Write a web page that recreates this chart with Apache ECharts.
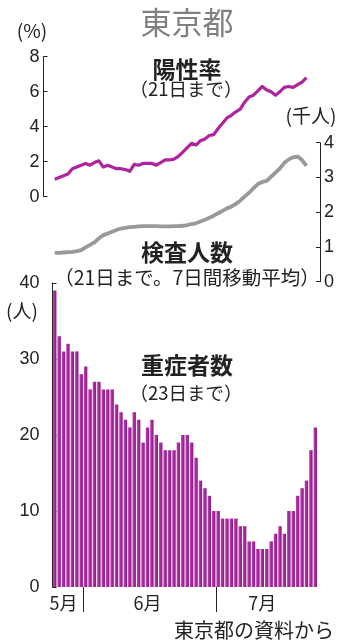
<!DOCTYPE html>
<html><head><meta charset="utf-8">
<script src="https://cdn.jsdelivr.net/npm/echarts@6/dist/echarts.min.js"></script>
<style>html,body{margin:0;padding:0;background:#fff}#c{width:346px;height:640px}</style>
</head><body><div id="c"></div>
<script>
// Categories: daily dates, May 25 – July 23
const dates = [
 '5/25','5/26','5/27','5/28','5/29','5/30','5/31',
 '6/1','6/2','6/3','6/4','6/5','6/6','6/7','6/8','6/9','6/10',
 '6/11','6/12','6/13','6/14','6/15','6/16','6/17','6/18','6/19','6/20',
 '6/21','6/22','6/23','6/24','6/25','6/26','6/27','6/28','6/29','6/30',
 '7/1','7/2','7/3','7/4','7/5','7/6','7/7','7/8','7/9','7/10',
 '7/11','7/12','7/13','7/14','7/15','7/16','7/17','7/18','7/19','7/20',
 '7/21','7/22','7/23'
];
// 陽性率 (%) to July 21
const positiveRate = [
 1.0,1.1,1.2,1.3,1.6,1.7,1.8,1.9,1.8,1.95,
 2.05,1.7,1.8,1.7,1.6,1.6,1.55,1.45,1.85,1.8,
 1.9,1.9,1.9,1.8,1.95,2.1,2.1,2.15,2.3,2.55,
 2.8,3.05,2.95,3.2,3.3,3.5,3.55,3.9,4.2,4.5,
 4.65,4.85,5.0,5.4,5.7,5.8,6.05,6.3,6.1,6.0,
 5.8,6.0,6.25,6.3,6.25,6.4,6.55,6.8
];
// 検査人数 (千人, 7-day avg) to July 21
const tests = [
 0.83,0.83,0.84,0.85,0.86,0.88,0.91,0.99,1.06,1.13,
 1.25,1.34,1.39,1.44,1.49,1.53,1.55,1.57,1.58,1.59,
 1.6,1.6,1.6,1.6,1.59,1.59,1.59,1.6,1.6,1.61,
 1.63,1.66,1.68,1.73,1.78,1.84,1.9,1.97,2.04,2.11,
 2.16,2.24,2.33,2.45,2.56,2.69,2.81,2.87,2.9,3.02,
 3.14,3.26,3.42,3.52,3.58,3.6,3.5,3.33
];
// 重症者数 (人) to July 23
const severe = [
 39,33,31,32,31,31,28,29,26,27,
 27,26,26,26,24,23,22,21,23,22,
 19,21,22,20,19,18,18,18,19,20,
 20,19,17,14,13,12,10,10,9,9,
 9,9,8,8,6,6,5,5,5,6,
 7,8,7,10,10,12,13,14,18,21
];
// Tick labels
const rateTicks = [0,2,4,6,8];
const testTicks = [0,1,2,3,4];
const severeTicks = [0,10,20,30,40];
const monthLabels = ['5月','6月','7月'];
const monthLabelDates = ['5/27','6/15','7/11'];
const monthStartDates = ['6/1','7/1'];

const INK = '#222';
const NUMFONT = "'Liberation Sans', Arial, sans-serif";
const JPFONT = "'Noto Sans CJK JP', sans-serif";
const GL = 52.5, GW = 265;

function yAx(grid, ticks, pos, offset) {
  return {
    type: 'value', gridIndex: grid, position: pos, offset: offset,
    min: ticks[0], max: ticks[ticks.length-1], interval: ticks[1]-ticks[0],
    axisLine: {show: true, lineStyle: {color: INK, width: 1}},
    axisTick: {show: true, inside: true, length: 4, lineStyle: {color: INK, width: 1}},
    axisLabel: {color: INK, fontSize: 18, fontFamily: NUMFONT, margin: 4},
    splitLine: {show: false}
  };
}
function xHidden(grid) {
  return {type: 'category', gridIndex: grid, data: dates, show: false, boundaryGap: true};
}

const chart = echarts.init(document.getElementById('c'), null, {renderer: 'canvas'});
function txt(t, x, y, size, opts) {
  opts = opts || {};
  return {
    type: 'text', x: x, y: y, silent: true,
    style: {
      text: t, fill: opts.color || INK,
      font: (opts.bold ? 'bold ' : '') + size + 'px ' + (opts.family || JPFONT),
      textAlign: opts.align || 'center', textVerticalAlign: 'middle'
    }
  };
}
// month boundaries expressed as day offsets along the date axis
const monthStartIdx = monthStartDates.map(d => dates.indexOf(d));
chart.setOption({
  animation: false,
  grid: [
    {left: GL, width: GW, top: 56.7, height: 140},
    {left: GL, width: GW, top: 142.7, height: 139},
    {left: GL, width: GW, top: 283, height: 304}
  ],
  xAxis: [
    xHidden(0), xHidden(1),
    {
      type: 'category', gridIndex: 2, data: dates, boundaryGap: true,
      axisLine: {show: false},
      axisTick: {show: false},
      axisLabel: {interval: (i, v) => monthLabelDates.includes(v),
                  formatter: v => monthLabels[monthLabelDates.indexOf(v)] || '',
                  color: INK, fontSize: 18, fontFamily: JPFONT, margin: 7}
    },
    {
      type: 'value', gridIndex: 2, position: 'bottom', min: 0, max: dates.length,
      axisLine: {show: false}, splitLine: {show: false},
      axisLabel: {show: false},
      axisTick: {show: true, length: 25, customValues: monthStartIdx,
                 lineStyle: {color: INK, width: 1}}
    }
  ],
  yAxis: [
    yAx(0, rateTicks, 'left', 9),
    yAx(1, testTicks, 'right', 2.5),
    yAx(2, severeTicks, 'left', 9)
  ],
  series: [
    {type: 'line', xAxisIndex: 0, yAxisIndex: 0, data: positiveRate, symbol: 'none',
     lineStyle: {color: '#b0239e', width: 3.2, join: 'round'}, z: 3},
    {type: 'line', xAxisIndex: 1, yAxisIndex: 1, data: tests, symbol: 'none',
     lineStyle: {color: '#999999', width: 3.8, join: 'round'}, z: 2},
    {type: 'bar', xAxisIndex: 2, yAxisIndex: 2, data: severe, barCategoryGap: '22%',
     itemStyle: {color: new echarts.graphic.LinearGradient(0, 0, 1, 0, [
       {offset: 0, color: '#c24bb8'}, {offset: 0.45, color: '#a52a9b'}, {offset: 1, color: '#8c1a84'}
     ])}}
  ],
  graphic: [
    txt('東京都', 187, 22, 31, {color: '#808080'}),
    txt('(%)', 32, 31, 19),
    txt('陽性率', 187, 69, 23, {bold: true}),
    txt('（21日まで）', 186, 89, 18.5),
    txt('(千人)', 311, 116, 19),
    txt('検査人数', 187, 252, 23, {bold: true}),
    txt('（21日まで。7日間移動平均）', 187, 278, 19.5),
    txt('(人)', 22, 311, 19),
    txt('重症者数', 187, 365, 23, {bold: true}),
    txt('（23日まで）', 186, 393, 18.5),
    txt('東京都の資料から', 334, 630, 20, {align: 'right'})
  ]
});
</script>
</body></html>
